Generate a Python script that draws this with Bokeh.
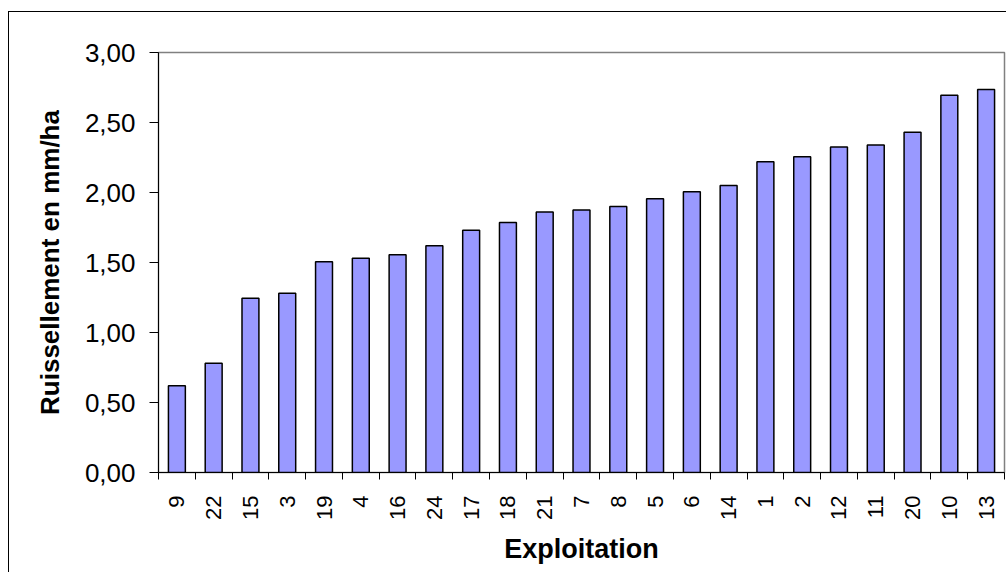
from bokeh.plotting import figure
from bokeh.models import Range1d, FixedTicker, CustomJSTickFormatter, ColumnDataSource
from bokeh.embed import file_html
from bokeh.resources import INLINE

# ---- data ----
exploitations = ["9", "22", "15", "3", "19", "4", "16", "24", "17", "18", "21", "7",
                 "8", "5", "6", "14", "1", "2", "12", "11", "20", "10", "13"]
ruissellement = [0.62, 0.78, 1.245, 1.28, 1.505, 1.53, 1.555, 1.62, 1.73, 1.785, 1.86, 1.875,
                 1.90, 1.955, 2.005, 2.05, 2.22, 2.255, 2.325, 2.34, 2.43, 2.695, 2.735]
y_ticks = [0.0, 0.5, 1.0, 1.5, 2.0, 2.5, 3.0]
y_title = "Ruissellement en mm/ha"
x_title = "Exploitation"

n = len(exploitations)
centers = [i + 0.5 for i in range(n)]
bounds = [float(i) for i in range(n + 1)]
src = ColumnDataSource(dict(x=centers, top=ruissellement, name=exploitations))

FONT = "Liberation Sans"

p = figure(frame_width=846, frame_height=420,
           min_border_left=149, min_border_right=2, min_border_top=40, min_border_bottom=100,
           x_range=Range1d(0, n), y_range=Range1d(y_ticks[0], y_ticks[-1]),
           output_backend="svg", toolbar_location=None)
p.styles = {"border-left": "1px solid black", "border-top": "1px solid black",
            "margin-top": "11px", "margin-left": "8px"}

p.vbar(x="x", top="top", bottom=0, width=0.46, source=src,
       fill_color="#9999FF", line_color="black", line_width=1.5)

p.xgrid.visible = False
p.ygrid.visible = False
p.outline_line_color = "#808080"
p.outline_line_width = 1.5
p.background_fill_color = "white"
p.border_fill_color = "white"

# x axis
xa = p.xaxis[0]
xa.ticker = FixedTicker(ticks=centers, minor_ticks=bounds)
xa.formatter = CustomJSTickFormatter(args=dict(names=exploitations),
                                     code="return names[Math.floor(tick)] || '';")
xa.major_label_orientation = 1.5707963267948966
xa.major_tick_out = 0
xa.major_tick_in = 0
xa.major_tick_line_color = None
xa.minor_tick_out = 7
xa.minor_tick_in = 0
xa.minor_tick_line_color = "black"
xa.major_label_standoff = 16
xa.major_label_text_font = FONT
xa.major_label_text_font_size = "22px"
xa.major_label_text_color = "black"
xa.axis_label = x_title
xa.axis_label_text_font = FONT
xa.axis_label_text_font_size = "27px"
xa.axis_label_text_font_style = "bold"
xa.axis_label_text_color = "black"
xa.axis_label_standoff = 11
xa.axis_line_color = "black"

# y axis
ya = p.yaxis[0]
ya.ticker = FixedTicker(ticks=y_ticks, minor_ticks=[])
ya.formatter = CustomJSTickFormatter(code="return tick.toFixed(2).replace('.', ',');")
ya.major_tick_out = 9
ya.major_tick_in = 0
ya.minor_tick_out = 0
ya.minor_tick_in = 0
ya.major_tick_line_color = "black"
ya.major_label_standoff = 14
ya.major_label_text_font = FONT
ya.major_label_text_font_size = "26px"
ya.major_label_text_color = "black"
ya.axis_label = y_title
ya.axis_label_text_font = FONT
ya.axis_label_text_font_size = "26px"
ya.axis_label_text_font_style = "bold"
ya.axis_label_text_color = "black"
ya.axis_label_standoff = 17
ya.axis_line_color = "black"

open("out.html", "w").write(file_html(p, INLINE))
